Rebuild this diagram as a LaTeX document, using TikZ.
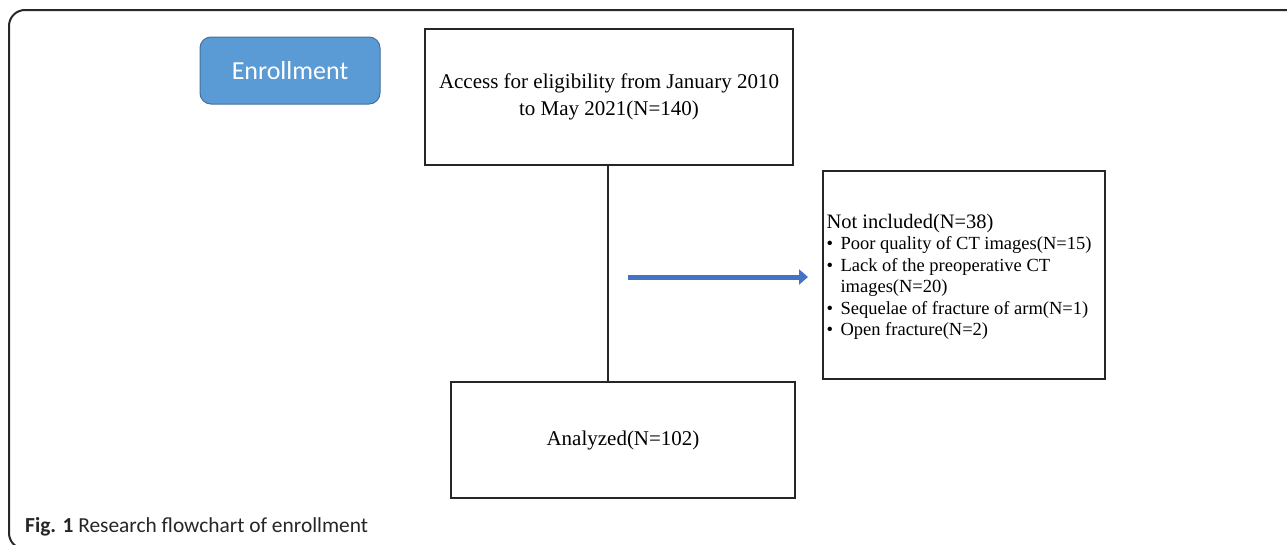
\documentclass[tikz,border=0pt]{standalone}
\usepackage{fontspec}
\setmainfont{Liberation Serif}
\newfontfamily\calib{Carlito}
\usetikzlibrary{arrows.meta}
\definecolor{enrollfill}{RGB}{91,155,213}
\definecolor{enrolldraw}{RGB}{65,113,156}
\definecolor{arrowblue}{RGB}{68,114,196}
\definecolor{framegray}{RGB}{40,40,40}
\tikzset{
  flowbox/.style={draw=black!85, line width=1.3pt, fill=white, inner sep=0pt},
  enrollbox/.style={draw=enrolldraw, line width=1pt, fill=enrollfill, rounded corners=11pt,
    text=white, font=\calib\fontsize{26}{30}\selectfont, inner sep=0pt},
  connector/.style={draw=black!85, line width=1.3pt},
  bluearrow/.style={draw=arrowblue, line width=5pt, -{Triangle[length=9pt,width=15pt]}},
}
\begin{document}
\begin{tikzpicture}[x=1pt,y=-1pt]
\useasboundingbox (0,0) rectangle (1287,544);
% outer frame
\draw[framegray, line width=2pt, rounded corners=16pt] (1300,10) -- (9,10) -- (9,549) -- (40,549);
% Enrollment
\node[enrollbox, minimum width=180pt, minimum height=67pt] (enroll) at (290,70.5) {Enrollment};
% box 1
\node[flowbox, minimum width=368pt, minimum height=136pt, align=center,
  font=\fontsize{21}{27}\selectfont] (access) at (609,97)
  {Access for eligibility from January 2010\\to May 2021(N=140)};
% box 2
\node[flowbox, minimum width=344pt, minimum height=116pt,
  font=\fontsize{21}{25}\selectfont] (analyzed) at (623,440) {Analyzed(N=102)};
% box 3
\node[flowbox, minimum width=282pt, minimum height=208pt] (excl) at (964,275) {};
\node[anchor=west, align=left, inner sep=0pt, font=\fontsize{18.5}{21.5}\selectfont] (excltext) at ([xshift=4pt,yshift=-2pt]excl.west)
  {{\fontsize{20.5}{21.5}\selectfont Not included(N=38)}\\
   \makebox[14pt][l]{\textbullet}Poor quality of CT images(N=15)\\
   \makebox[14pt][l]{\textbullet}Lack of the preoperative CT\\
   \hspace*{14pt}images(N=20)\\
   \makebox[14pt][l]{\textbullet}Sequelae of fracture of arm(N=1)\\
   \makebox[14pt][l]{\textbullet}Open fracture(N=2)};
% connector
\draw[connector] (access.south -| 608,0) -- (608,0 |- analyzed.north);
% blue arrow
\coordinate (arrowstart) at (628,277);
\coordinate (arrowend) at (808,277);
\draw[bluearrow] (arrowstart) -- (arrowend);
% caption
\node[anchor=base west, inner sep=0pt, font=\calib\fontsize{21.4}{25}\selectfont, text=black!85] (caption) at (25,532)
  {\textbf{Fig. 1} Research flowchart of enrollment};
\end{tikzpicture}
\end{document}
